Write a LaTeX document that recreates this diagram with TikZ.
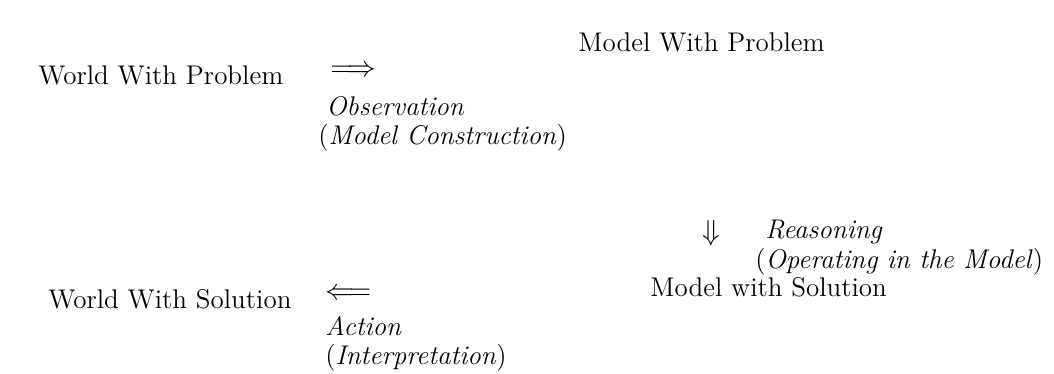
\documentclass[tikz,border=0pt]{standalone}
\usepackage{amsmath,amssymb}
\usepackage{tikz}
\usetikzlibrary{positioning}
\tikzset{
    estado/.style={
        anchor=base west,
        inner sep=0pt,
        font=\fontsize{13.5}{16}\selectfont
    },
    rotulo/.style={estado, font=\fontsize{13.5}{16}\selectfont\itshape},
    seta/.style={estado}
}

\begin{document}
\begin{tikzpicture}[x=0.5pt, y=-0.5pt]
        \useasboundingbox (0,0) rectangle (1054,374);
        \node[estado] (wwp) at (38,85) {World With Problem};
        \node[seta] (obsArrow) at (330,76) {$\Longrightarrow$};
        \node[rotulo] (obs) at (326,116) {Observation};
        \node[estado] (obsSub) at (318,144) {(\textit{Model Construction})};
        \node[estado] (mwp) at (578,52) {Model With Problem};

        \node[seta] (reasArrow) at (702,240) {$\Downarrow$};
        \node[rotulo] (reas) at (765,238) {Reasoning};
        \node[estado] (reasSub) at (755,268) {(\textit{Operating in the Model})};

        \node[estado] (mws) at (650,296) {Model with Solution};
        \node[estado] (wws) at (48,308) {World With Solution};
        \node[seta] (actArrow) at (325,299) {$\Longleftarrow$};
        \node[rotulo] (act) at (325,335) {Action};
        \node[estado] (actSub) at (325,364) {(\textit{Interpretation})};
    \end{tikzpicture}
\end{document}
